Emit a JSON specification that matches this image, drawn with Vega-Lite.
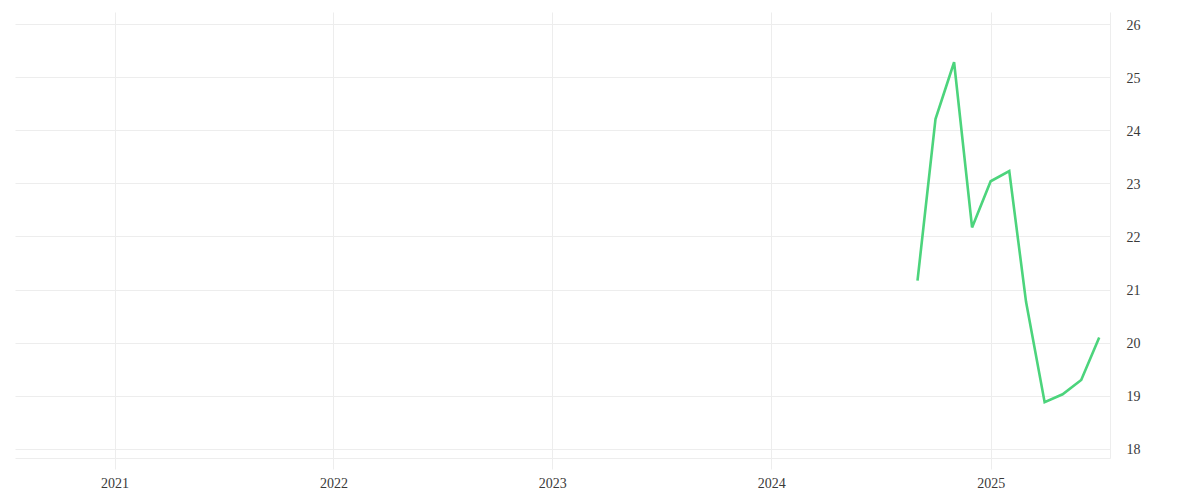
{
  "$schema": "https://vega.github.io/schema/vega-lite/v6.json",
  "width": 1095,
  "height": 446,
  "autosize": {"type": "none"},
  "padding": {"left": 15, "top": 12, "right": 90, "bottom": 42},
  "background": "#ffffff",
  "data": {
    "values": [
      {"date": "2024-09-01", "value": 21.17},
      {"date": "2024-10-01", "value": 24.21},
      {"date": "2024-11-01", "value": 25.28},
      {"date": "2024-12-01", "value": 22.17},
      {"date": "2025-01-01", "value": 23.04},
      {"date": "2025-02-01", "value": 23.23},
      {"date": "2025-03-01", "value": 20.77},
      {"date": "2025-04-01", "value": 18.88},
      {"date": "2025-05-01", "value": 19.03},
      {"date": "2025-06-01", "value": 19.3},
      {"date": "2025-07-01", "value": 20.1}
    ]
  },
  "mark": {
    "type": "line",
    "color": "#4cd47c",
    "strokeWidth": 2.6,
    "strokeJoin": "miter"
  },
  "encoding": {
    "x": {
      "field": "date",
      "type": "temporal",
      "title": null,
      "scale": {
        "domain": [
          {"year": 2020, "month": 7, "date": 19},
          {"year": 2025, "month": 7, "date": 19}
        ]
      },
      "axis": {
        "format": "%Y",
        "tickCount": {"interval": "year", "step": 1},
        "grid": true,
        "gridColor": "#ededed",
        "domainColor": "#ededed",
        "tickColor": "#ededed",
        "tickSize": 11,
        "labelPadding": 7,
        "labelFlush": false
      }
    },
    "y": {
      "field": "value",
      "type": "quantitative",
      "title": null,
      "scale": {"domain": [17.83, 26.226], "nice": false, "zero": false},
      "axis": {
        "orient": "right",
        "values": [18, 19, 20, 21, 22, 23, 24, 25, 26],
        "grid": true,
        "gridColor": "#ededed",
        "domain": true,
        "domainColor": "#ededed",
        "ticks": false,
        "labelPadding": 16,
        "labelOffset": 1
      }
    }
  },
  "config": {
    "view": {"stroke": null},
    "axis": {
      "labelFont": "Liberation Serif",
      "labelFontSize": 14,
      "labelColor": "#3a3a3a",
      "labelFontWeight": "normal"
    }
  }
}
